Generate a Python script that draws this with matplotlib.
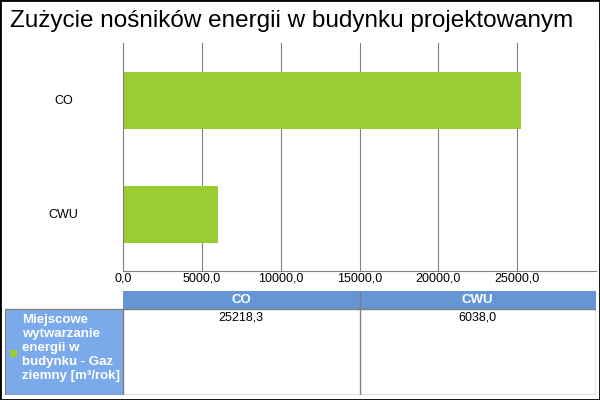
import matplotlib.pyplot as plt
from matplotlib.patches import Rectangle

plt.rcParams['font.family'] = ['Liberation Sans', 'DejaVu Sans']

title = "Zużycie nośników energii w budynku projektowanym"
categories = ["CO", "CWU"]
values = [25218.3, 6038.0]
value_labels = ["25218,3", "6038,0"]
series_name = "Miejscowe\nwytwarzanie\nenergii w\nbudynku - Gaz\nziemny [m³/rok]"
xticks = [0, 5000, 10000, 15000, 20000, 25000]

W, H = 600, 400
bar_color = "#9ACD32"
head_color = "#6495D5"
rowhead_color = "#7BAAEA"
grid_color = "#808080"


def fr(x0, y0, x1, y1):
    # pixel box -> figure fraction
    return [x0 / W, 1 - y1 / H, (x1 - x0) / W, (y1 - y0) / H]


fig = plt.figure(figsize=(6, 4), dpi=100)
fig.patches.append(Rectangle((0, 0), 1, 1, transform=fig.transFigure, fill=False,
                             edgecolor="black", linewidth=2))
fig.text(10 / W, 1 - 21 / H, title, fontsize=17.5, va="center", ha="left")

# bar chart
ax = fig.add_axes(fr(123, 43, 596, 271))
ypos = list(range(len(categories)))[::-1]
ax.barh(ypos, values, height=0.5, color=bar_color)
ax.set_xlim(0, 30000)
ax.set_ylim(-0.5, len(categories) - 0.5)
ax.set_xticks(xticks)
ax.set_xticklabels([f"{t:.1f}".replace(".", ",") for t in xticks], fontsize=9)
ax.set_yticks(ypos)
ax.set_yticklabels(categories, fontsize=9)
ax.tick_params(axis="x", length=0, pad=1)
ax.xaxis.grid(True, color=grid_color, linewidth=0.8)
ax.set_axisbelow(True)
for s in ["top", "right"]:
    ax.spines[s].set_visible(False)
ax.spines["left"].set_color(grid_color)
ax.spines["bottom"].set_color(grid_color)
ax.axvline(30000, color=grid_color, linewidth=0.8)
for lab in ax.get_yticklabels():
    lab.set_horizontalalignment("center")
ax.tick_params(axis="y", length=0, pad=43)

# data table
tx = fig.add_axes(fr(5, 291, 596, 395))
tx.set_xlim(5, 596)
tx.set_ylim(395, 291)
tx.axis("off")
col_w = (596 - 123) / len(categories)
tx.add_patch(Rectangle((123, 291), 596 - 123, 18, facecolor=head_color, edgecolor="none"))
tx.add_patch(Rectangle((5, 309), 118, 86, facecolor=rowhead_color, edgecolor=grid_color, linewidth=1))
tx.add_patch(Rectangle((123, 309), 596 - 123, 86, facecolor="white", edgecolor=grid_color, linewidth=1))
for i, (cat, lab) in enumerate(zip(categories, value_labels)):
    x0 = 123 + i * col_w
    tx.text(x0 + col_w / 2, 300, cat, color="white", fontsize=9.5, fontweight="bold",
            ha="center", va="center")
    tx.text(x0 + col_w / 2, 311, lab, fontsize=9, ha="center", va="top")
    if i > 0:
        tx.plot([x0, x0], [291, 395], color=grid_color, linewidth=1)
tx.add_patch(Rectangle((10, 350), 7, 7, facecolor=bar_color, edgecolor="none"))
tx.text(22, 314, series_name, color="white", fontsize=9.5, fontweight="bold",
        ha="left", va="top", linespacing=1.22)

fig.savefig("out.png", dpi=100)
